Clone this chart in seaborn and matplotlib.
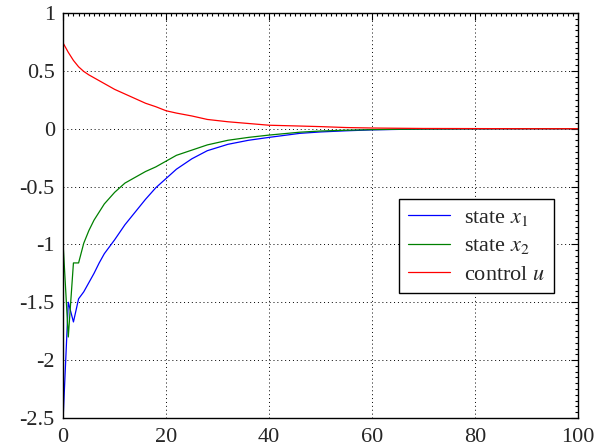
import seaborn as sns
import pandas as pd
import matplotlib
matplotlib.use('Agg')
import matplotlib.pyplot as plt
from matplotlib.ticker import MultipleLocator, FuncFormatter

# time steps and the three signals
t = [0, 1, 2, 3, 4, 5, 6, 7, 8, 10, 12, 14, 16, 18, 20, 22, 25, 28, 32, 36,
     40, 46, 50, 55, 60, 65, 70, 80, 90, 100]
x1 = [-2.5, -1.5, -1.67, -1.47, -1.41, -1.33, -1.25, -1.16, -1.08, -0.96,
      -0.83, -0.72, -0.61, -0.51, -0.43, -0.35, -0.26, -0.19, -0.135, -0.10,
      -0.075, -0.04, -0.028, -0.018, -0.01, -0.006, -0.003, -0.001, 0.0, 0.0]
x2 = [-1.0, -1.80, -1.16, -1.16, -0.99, -0.88, -0.79, -0.72, -0.65, -0.55,
      -0.47, -0.42, -0.37, -0.33, -0.28, -0.23, -0.185, -0.14, -0.10, -0.075,
      -0.055, -0.03, -0.02, -0.013, -0.008, -0.005, -0.003, -0.001, 0.0, 0.0]
u = [0.74, 0.66, 0.59, 0.535, 0.495, 0.465, 0.44, 0.415, 0.39, 0.34,
     0.30, 0.26, 0.22, 0.19, 0.155, 0.135, 0.11, 0.08, 0.06, 0.045,
     0.03, 0.023, 0.018, 0.01, 0.006, 0.004, 0.002, 0.001, 0.0, 0.0]

df = pd.DataFrame({'t': t, 'x1': x1, 'x2': x2, 'u': u})

sns.set_style('white')
plt.rcParams['font.family'] = ['Liberation Serif', 'DejaVu Serif']
plt.rcParams['mathtext.fontset'] = 'stix'
plt.rcParams['axes.unicode_minus'] = False

fig, ax = plt.subplots(figsize=(6.13, 4.48), dpi=100)
fig.subplots_adjust(left=0.103, right=0.943, top=0.971, bottom=0.067)

sns.lineplot(data=df, x='t', y='x1', color='#0000ff', lw=0.9, label='state $x_1$', ax=ax)
sns.lineplot(data=df, x='t', y='x2', color='#008000', lw=0.9, label='state $x_2$', ax=ax)
sns.lineplot(data=df, x='t', y='u', color='#ff0000', lw=0.9, label='control $u$', ax=ax)

ax.set_xlim(0, 100)
ax.set_ylim(-2.5, 1)
ax.set_xlabel('')
ax.set_ylabel('')
ax.xaxis.set_major_locator(MultipleLocator(20))
ax.yaxis.set_major_locator(MultipleLocator(0.5))
ax.xaxis.set_minor_locator(MultipleLocator(1))
ax.yaxis.set_minor_locator(MultipleLocator(0.05))
ax.yaxis.set_major_formatter(FuncFormatter(lambda v, p: '%g' % v))
ax.tick_params(which='both', direction='in', top=True, right=True, labelsize=16,
               color='black', width=0.8)
ax.tick_params(which='major', length=5)
ax.tick_params(which='minor', length=2)
ax.tick_params(axis='x', which='major', pad=7)
ax.tick_params(axis='y', which='major', pad=6)
for s in ax.spines.values():
    s.set_color('black')
    s.set_linewidth(1.0)
ax.grid(True, which='major', color='black', linestyle=(0, (1, 3)), linewidth=0.7)

leg = ax.legend(loc='upper left', bbox_to_anchor=(0.6526, 0.541), borderaxespad=0,
                fontsize=16, frameon=True, fancybox=False, framealpha=1,
                edgecolor='black', handlelength=1.9, handletextpad=0.65,
                borderpad=0.38, labelspacing=0.36)
leg.get_frame().set_linewidth(1.0)

fig.savefig('out.png', dpi=100)
